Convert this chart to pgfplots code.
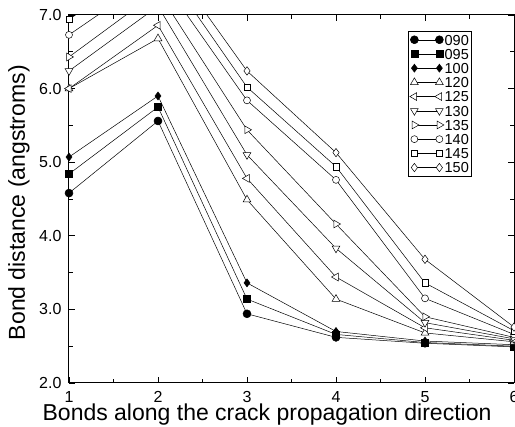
\documentclass[border=0pt]{standalone}
\usepackage{fontspec}
\setmainfont{Liberation Sans}
\usepackage{pgfplots}
\pgfplotsset{compat=1.18}
\usepackage{pgfplotstable}

% full series (lines, clipped at the top of the axis)
\pgfplotstableread{
x  s090 s095 s100 s120 s125 s130 s135 s140 s145 s150
1  4.58 4.84 5.07 6.00 6.00 6.24 6.43 6.73 6.94 7.10
2  5.56 5.75 5.90 6.68 6.86 7.12 7.32 7.56 7.76 7.93
3  2.94 3.14 3.36 4.49 4.78 5.10 5.44 5.84 6.02 6.24
4  2.62 2.66 2.70 3.14 3.44 3.83 4.16 4.76 4.94 5.13
5  2.54 2.55 2.57 2.68 2.75 2.82 2.90 3.15 3.36 3.68
6  2.49 2.50 2.52 2.56 2.58 2.60 2.62 2.66 2.71 2.76
}\datatable
% marked points that lie inside the axis
\pgfplotstableread{
x  s130 s135 s140 s145 s150
1  6.24 6.43 6.73 6.94 nan
2  nan  nan  nan  nan  nan
3  5.10 5.44 5.84 6.02 6.24
4  3.83 4.16 4.76 4.94 5.13
5  2.82 2.90 3.15 3.36 3.68
6  2.60 2.62 2.66 2.71 2.76
}\marktable

\begin{document}
\begin{tikzpicture}
\begin{axis}[
  at={(0,0)}, anchor=south west,
  scale only axis, width=445pt, height=368pt,
  xmin=1, xmax=6, ymin=2, ymax=7,
  xtick={1,2,3,4,5,6}, ytick={2,3,4,5,6,7},
  minor x tick num=1, minor y tick num=1,
  major tick length=6pt, minor tick length=4pt,
  tick style={black, line width=0.6pt},
  axis line style={black, line width=1pt},
  clip mode=individual,
  unbounded coords=jump,
  /pgf/number format/assume math mode=true,
  ticklabel style={font=\fontsize{16}{16}\selectfont},
  yticklabel style={/pgf/number format/fixed, /pgf/number format/fixed zerofill, /pgf/number format/precision=1, xshift=-4pt},
  xticklabel style={yshift=-5pt},
  xlabel={Bonds along the crack propagation direction},
  ylabel={Bond distance (angstroms)},
  label style={font=\fontsize{23}{24}\selectfont},
  xlabel style={at={(axis description cs:0.445,0)}, anchor=base, yshift=-38pt},
  ylabel style={at={(axis description cs:-0.0989,0.49)}, anchor=base},
  legend cell align=left,
  legend image code/.code={\draw[#1, sharp plot] plot coordinates {(0pt,0pt) (25pt,0pt)};},
  legend style={at={(axis description cs:0.762,0.9565)}, anchor=north west,
     draw=black, line width=0.6pt, font=\fontsize{14.5}{15}\selectfont,
     inner xsep=1.5pt, inner ysep=2pt, row sep=1.3pt,
     nodes={inner xsep=0.8pt, inner ysep=1.2pt, text height=10.5pt, text depth=0pt}},
  every axis plot/.append style={black, solid, line width=0.5pt},
]
\addplot[mark=*, mark size=4pt, mark options={solid, fill=black, line width=0.5pt}] table[x=x, y=s090] {\datatable};
\addlegendentry{090}
\addplot[mark=square*, mark size=3.6pt, mark options={solid, fill=black, line width=0.5pt}] table[x=x, y=s095] {\datatable};
\addlegendentry{095}
\addplot[mark=diamond*, mark size=4pt, mark options={solid, fill=black, line width=0.5pt}] table[x=x, y=s100] {\datatable};
\addlegendentry{100}
\addplot[mark=triangle*, mark size=4.5pt, mark options={solid, fill=white, line width=0.5pt}] table[x=x, y=s120] {\datatable};
\addlegendentry{120}
\addplot[mark=triangle*, mark size=4.5pt, mark options={solid, fill=white, line width=0.5pt, rotate=90}] table[x=x, y=s125] {\datatable};
\addlegendentry{125}
% 130
\addplot[forget plot, no marks] table[x=x, y=s130] {\datatable};
\addplot[only marks, mark=triangle*, mark size=4.5pt, mark options={solid, fill=white, line width=0.5pt, rotate=180}] table[x=x, y=s130] {\marktable};
\addlegendentry{130}
% 135
\addplot[forget plot, no marks] table[x=x, y=s135] {\datatable};
\addplot[only marks, mark=triangle*, mark size=4.5pt, mark options={solid, fill=white, line width=0.5pt, rotate=270}] table[x=x, y=s135] {\marktable};
\addlegendentry{135}
% 140
\addplot[forget plot, no marks] table[x=x, y=s140] {\datatable};
\addplot[only marks, mark=*, mark size=3.5pt, mark options={solid, fill=white, line width=0.5pt}] table[x=x, y=s140] {\marktable};
\addlegendentry{140}
% 145
\addplot[forget plot, no marks] table[x=x, y=s145] {\datatable};
\addplot[only marks, mark=square*, mark size=3.2pt, mark options={solid, fill=white, line width=0.5pt}] table[x=x, y=s145] {\marktable};
\addlegendentry{145}
% 150
\addplot[forget plot, no marks] table[x=x, y=s150] {\datatable};
\addplot[only marks, mark=diamond*, mark size=4.2pt, mark options={solid, fill=white, line width=0.5pt}] table[x=x, y=s150] {\marktable};
\addlegendentry{150}
\end{axis}
\pgfresetboundingbox
\useasboundingbox (-69pt,-44pt) rectangle (446pt,383pt);
\end{tikzpicture}
\end{document}
